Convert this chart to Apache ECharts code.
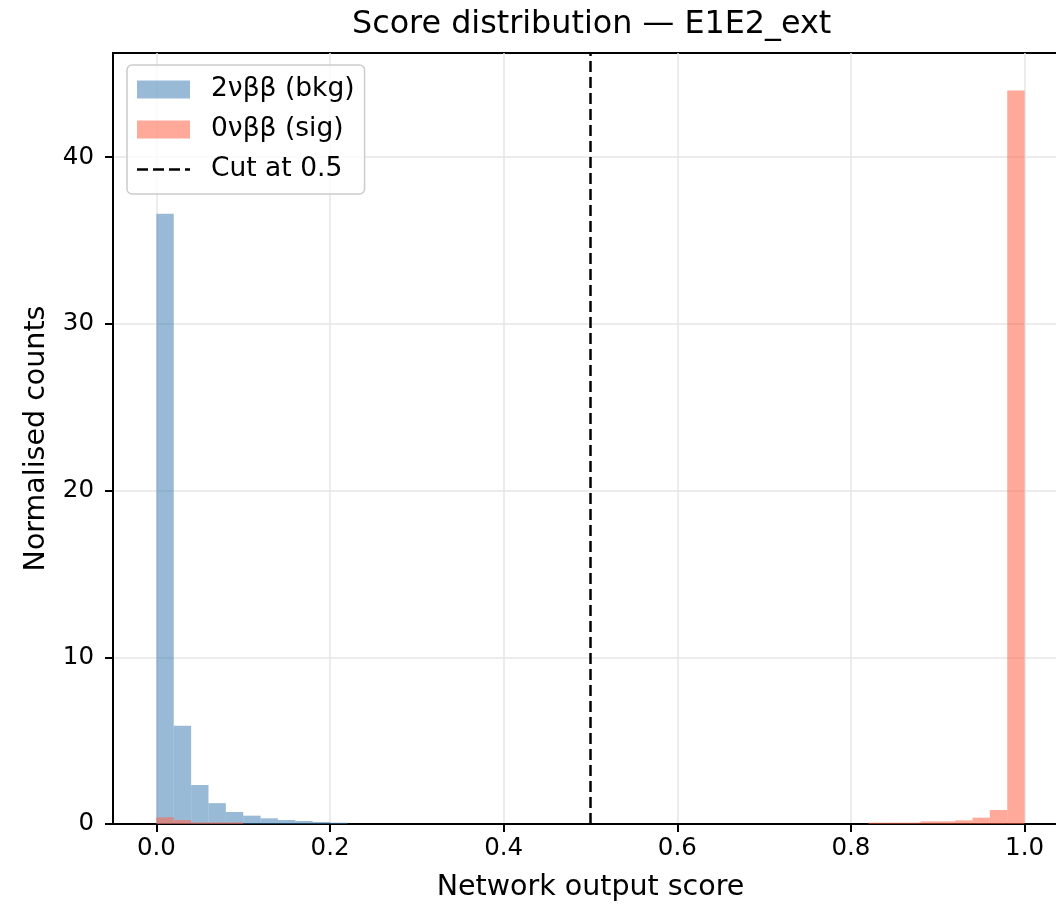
<!DOCTYPE html>
<html>
<head>
<meta charset="utf-8">
<title>Score distribution</title>
<script src="https://cdn.jsdelivr.net/npm/echarts@6/dist/echarts.min.js"></script>
<style>
  html, body { margin: 0; padding: 0; background: #fff; }
  #chart { width: 1056px; height: 907px; }
</style>
</head>
<body>
<div id="chart"></div>
<script>
// 50 bins between 0 and 1
var binLo = 0;
var binWidth = 0.02;

// 2νββ background, normalised counts per bin
var bkgCounts = [
  36.6, 5.9, 2.34, 1.25, 0.72, 0.50, 0.34, 0.24, 0.18, 0.12,
  0.08, 0, 0, 0, 0, 0, 0, 0, 0, 0,
  0, 0, 0, 0, 0, 0, 0, 0, 0, 0,
  0, 0, 0, 0, 0, 0, 0, 0, 0, 0,
  0, 0, 0, 0, 0, 0, 0, 0, 0, 0
];

// 0νββ signal, normalised counts per bin
var sigCounts = [
  0.40, 0.24, 0.09, 0.09, 0.09, 0, 0, 0, 0, 0,
  0, 0, 0, 0, 0, 0, 0, 0, 0, 0,
  0, 0, 0, 0, 0, 0, 0, 0, 0, 0,
  0, 0, 0, 0, 0, 0, 0, 0, 0, 0,
  0, 0.08, 0.08, 0.08, 0.16, 0.16, 0.22, 0.38, 0.84, 44.0
];

var cutValue = 0.5;
var xTicks = [0, 0.2, 0.4, 0.6, 0.8, 1.0];
var yTicks = [0, 10, 20, 30, 40];

var FONT = 'DejaVu Sans';
// dashed line legend icon ("--" style)
var DASH_ICON = 'path://M0 0H11V2.5H0Z M16 0H27V2.5H16Z M32 0H43V2.5H32Z M48 0H53V2.5H48Z';

function toBins(counts) {
    var out = [];
    for (var i = 0; i < counts.length; i++) {
        var lo = binLo + i * binWidth;
        out.push([lo, lo + binWidth, counts[i]]);
    }
    return out;
}

function renderBin(params, api) {
    var p0 = api.coord([api.value(0), api.value(2)]);
    var p1 = api.coord([api.value(1), 0]);
    return {
        type: 'rect',
        shape: { x: p0[0], y: p0[1], width: p1[0] - p0[0], height: p1[1] - p0[1] },
        style: { fill: api.visual('color') }
    };
}

var charts = echarts.init(document.getElementById('chart'));
var option = {
    backgroundColor: '#fff',
    animation: false,
    title: {
        text: 'Score distribution — E1E2_ext',
        left: 352,
        top: 9,
        padding: 0,
        textStyle: { fontFamily: FONT, fontSize: 31.8, fontWeight: 'normal', color: '#000' }
    },
    legend: {
        orient: 'vertical',
        left: 127,
        top: 65,
        padding: [11, 10, 11, 10],
        itemWidth: 53,
        itemHeight: 18,
        itemGap: 13,
        backgroundColor: 'rgba(255,255,255,0.8)',
        borderColor: '#cccccc',
        borderWidth: 1.5,
        borderRadius: 5,
        symbolKeepAspect: true,
        textStyle: { fontFamily: FONT, fontSize: 26.5, color: '#000', padding: [0, 0, 0, 16] },
        data: [
            { name: '2νββ (bkg)', icon: 'rect' },
            { name: '0νββ (sig)', icon: 'rect' },
            { name: 'Cut at 0.5', icon: DASH_ICON }
        ]
    },
    grid: {
        left: 113,
        top: 53,
        width: 955,
        height: 771,
        outerBoundsMode: 'none',
        containLabel: false,
        show: true,
        borderColor: '#000',
        borderWidth: 2,
        backgroundColor: 'transparent'
    },
    xAxis: {
        type: 'value',
        min: -0.05,
        max: 1.05,
        name: 'Network output score',
        nameLocation: 'middle',
        nameGap: 49,
        nameTextStyle: { fontFamily: FONT, fontSize: 28.5, color: '#000' },
        axisLine: { show: true, onZero: false, lineStyle: { color: '#000', width: 2 } },
        axisTick: { show: true, length: 8, lineStyle: { color: '#000', width: 2 }, customValues: xTicks },
        axisLabel: {
            fontFamily: FONT, fontSize: 24.5, color: '#000', margin: 12,
            customValues: xTicks,
            formatter: function (v) { return v.toFixed(1); }
        },
        splitLine: { show: true, lineStyle: { color: '#e6e6e6', width: 1.5 } }
    },
    yAxis: {
        type: 'value',
        min: 0,
        max: 46.25,
        name: 'Normalised counts',
        nameLocation: 'middle',
        nameGap: 62,
        nameTextStyle: { fontFamily: FONT, fontSize: 28.5, color: '#000' },
        axisLine: { show: true, onZero: false, lineStyle: { color: '#000', width: 2 } },
        axisTick: { show: true, length: 8, lineStyle: { color: '#000', width: 2 }, customValues: yTicks },
        axisLabel: {
            fontFamily: FONT, fontSize: 24.5, color: '#000', margin: 19,
            customValues: yTicks
        },
        splitLine: { show: true, lineStyle: { color: '#e6e6e6', width: 1.5 } }
    },
    series: [
        {
            name: '2νββ (bkg)',
            type: 'custom',
            renderItem: renderBin,
            itemStyle: { color: 'rgba(70,130,180,0.55)' },
            encode: { x: [0, 1], y: 2 },
            data: toBins(bkgCounts),
            z: 2
        },
        {
            name: '0νββ (sig)',
            type: 'custom',
            renderItem: renderBin,
            itemStyle: { color: 'rgba(255,99,71,0.55)' },
            encode: { x: [0, 1], y: 2 },
            data: toBins(sigCounts),
            z: 3
        },
        {
            name: 'Cut at 0.5',
            type: 'line',
            symbol: 'none',
            data: [],
            lineStyle: { color: '#000', width: 2.5, type: [11, 5] },
            itemStyle: { color: '#000' },
            markLine: {
                silent: true,
                symbol: ['none', 'none'],
                label: { show: false },
                lineStyle: { color: '#000', width: 2.5, type: [11, 5] },
                data: [{ xAxis: cutValue }]
            },
            z: 4
        }
    ]
};
//渲染图表
if (option && typeof option === "object") {
    charts.setOption(option, true);
}
</script>
</body>
</html>
